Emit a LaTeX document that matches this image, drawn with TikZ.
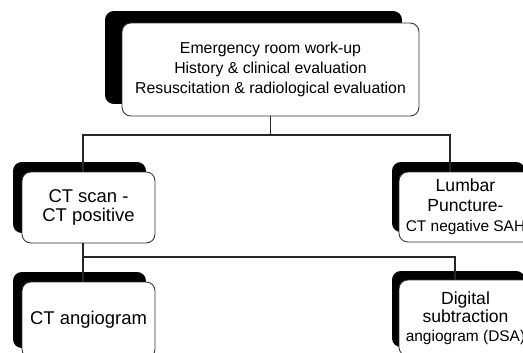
\documentclass[tikz,border=0pt]{standalone}
\usepackage{fontspec}
\setmainfont{Liberation Sans}
\usetikzlibrary{shadows}

\tikzset{
	stagebox/.style={draw=black!80,line width=0.5pt,fill=white,rounded corners=5pt,
		align=center,inner sep=0pt,minimum width=2.66cm},
	blackshadow/.style 2 args={drop shadow={shadow xshift=#1,shadow yshift=#2,fill=black,opacity=1}},
	link/.style={draw=black!85,line width=0.6pt}
}

\begin{document}
\begin{tikzpicture}[x=0.02cm,y=-0.02cm]
	\useasboundingbox (0,0) rectangle (523,352);
	\clip (0,0) rectangle (523,352);
	\node[stagebox,blackshadow={-0.34cm}{0.24cm},minimum width=5.94cm,minimum height=1.86cm,
		font=\fontsize{9}{11.3}\selectfont] (workup) at (270.5,69.5)
		{Emergency room work-up\\History \& clinical evaluation\\Resuscitation \& radiological evaluation};
	\node[stagebox,blackshadow={-0.18cm}{0.2cm},minimum height=1.42cm,
		font=\fontsize{10.5}{11.3}\selectfont] (ctscan) at (88.5,207.5) {CT scan -\\CT positive};
	\node[stagebox,blackshadow={-0.14cm}{0.2cm},minimum height=1.40cm,
		font=\fontsize{10}{11.3}\selectfont] (lumbar) at (465.5,207)
		{Lumbar\\Puncture-\\{\fontsize{8.8}{10}\selectfont CT negative SAH}};
	\node[stagebox,blackshadow={-0.18cm}{0.2cm},minimum height=1.52cm,
		font=\fontsize{10.5}{11.3}\selectfont] (ctangio) at (88.5,320) {CT angiogram};
	\node[stagebox,blackshadow={-0.14cm}{0.18cm},minimum height=1.52cm,
		font=\fontsize{10}{10.5}\selectfont] (dsa) at (465.5,318)
		{Digital\\subtraction\\{\fontsize{8.8}{10}\selectfont angiogram (DSA)}};
	\coordinate (busL) at (83,135);
	\coordinate (busR) at (450,135);
	\coordinate (subL) at (83,257);
	\coordinate (subR) at (455,257);
	\draw[link] (workup.south) -- (workup.south |- busL);
	\draw[link] (busL |- ctscan.north) -- (busL) -- (busR) -- (busR |- lumbar.north);
	\draw[link] (ctscan.south -| subL) -- (subL |- ctangio.north);
	\draw[link] (subL) -- (subR) -- (subR |- dsa.north);
\end{tikzpicture}
\end{document}
